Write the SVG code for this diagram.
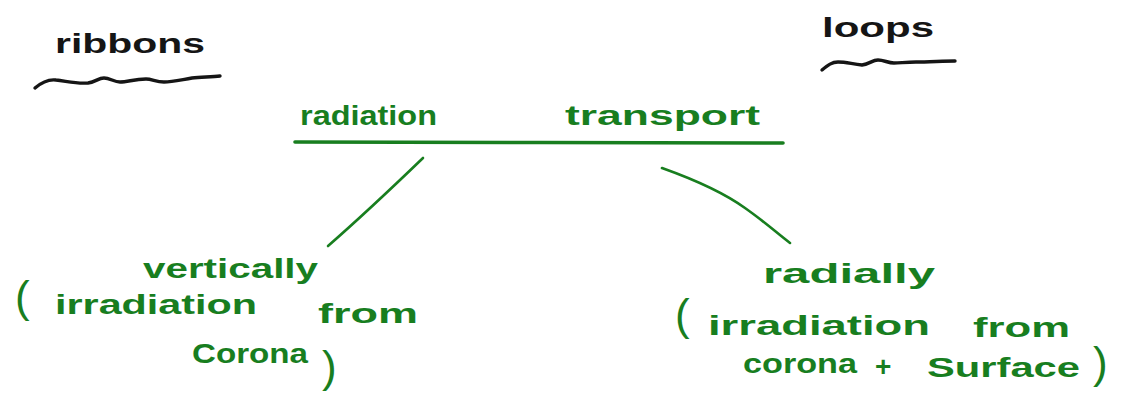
<svg xmlns="http://www.w3.org/2000/svg" width="1124" height="398" viewBox="0 0 1124 398">
  <style>
    .ink { font-family: "Liberation Sans", "DejaVu Sans", sans-serif; font-size: 28px; font-weight: bold; }
    .black { fill: #151515; }
    .green { fill: #187e1f; }
    .paren { font-family: "Liberation Sans", "DejaVu Sans", sans-serif; font-size: 44px; fill: #187e1f; }
    .squiggle { fill: none; stroke: #151515; stroke-width: 3.4; stroke-linecap: round; stroke-linejoin: round; }
    .rule { fill: none; stroke: #187e1f; stroke-width: 3.6; stroke-linecap: round; }
    .link { fill: none; stroke: #187e1f; stroke-width: 2.6; stroke-linecap: round; }
  </style>
  <rect width="1124" height="398" fill="#ffffff"/>

  <!-- heading: ribbons -->
  <g id="ribbons">
    <text class="ink black" x="55" y="53" textLength="150" lengthAdjust="spacingAndGlyphs">ribbons</text>
    <path class="squiggle" d="M35,88 C42,82 48,79 56,80 C66,81 76,84 88,83 C96,82 98,78 104,78 C110,78 114,82 120,82 C128,82 134,79 146,79 C152,79 156,82 164,82 C172,82 180,80 192,78 C202,77 212,77 220,76"/>
  </g>

  <!-- heading: loops -->
  <g id="loops">
    <text class="ink black" x="822" y="37" font-size="31" textLength="112" lengthAdjust="spacingAndGlyphs">loops</text>
    <path class="squiggle" d="M822,70 C828,65 832,62 838,62 C846,62 852,64 862,65 C870,64 872,60 878,60 C884,60 888,63 894,63 C900,63 906,62 916,62 C928,62 944,61 955,61"/>
  </g>

  <!-- central topic -->
  <g id="radiation-transport">
    <text class="ink green" x="300" y="125" font-size="30" textLength="137" lengthAdjust="spacingAndGlyphs">radiation</text>
    <text class="ink green" x="565" y="125" font-size="30" textLength="195" lengthAdjust="spacingAndGlyphs">transport</text>
    <path class="rule" d="M295,142 L540,142.5 L783,143"/>
  </g>

  <!-- left branch -->
  <g id="vertically">
    <text class="ink green" x="143" y="278" textLength="175" lengthAdjust="spacingAndGlyphs">vertically</text>
    <text class="paren" x="15" y="312">(</text>
    <text class="ink green" x="55" y="314" textLength="202" lengthAdjust="spacingAndGlyphs">irradiation</text>
    <text class="ink green" x="318" y="323" textLength="100" lengthAdjust="spacingAndGlyphs">from</text>
    <text class="ink green" x="192" y="363" textLength="116" lengthAdjust="spacingAndGlyphs">Corona</text>
    <text class="paren" x="322" y="382" font-size="58">)</text>
  </g>

  <!-- right branch -->
  <g id="radially">
    <text class="ink green" x="763" y="283" textLength="172" lengthAdjust="spacingAndGlyphs">radially</text>
    <text class="paren" x="675" y="330" font-size="34">(</text>
    <text class="ink green" x="708" y="335" textLength="222" lengthAdjust="spacingAndGlyphs">irradiation</text>
    <text class="ink green" x="973" y="337" textLength="97" lengthAdjust="spacingAndGlyphs">from</text>
    <text class="ink green" x="743" y="373" textLength="114" lengthAdjust="spacingAndGlyphs">corona</text>
    <text class="ink green" x="875" y="376">+</text>
    <text class="ink green" x="927" y="377" textLength="153" lengthAdjust="spacingAndGlyphs">Surface</text>
    <text class="paren" x="1093" y="378" font-size="50">)</text>
  </g>

  <!-- connectors from the topic to each branch -->
  <g id="connectors">
    <path class="link" d="M423,158 C395,185 360,218 328,246"/>
    <path class="link" d="M662,168 C690,178 720,190 745,208 C765,222 778,234 790,243"/>
  </g>
</svg>
